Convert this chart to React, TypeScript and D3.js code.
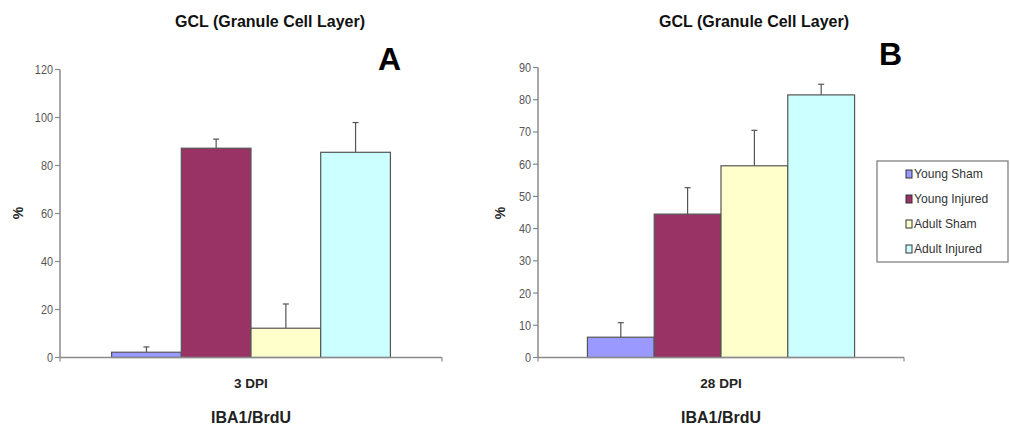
import React from "react";
import * as d3 from "d3";

const series = ["Young Sham", "Young Injured", "Adult Sham", "Adult Injured"];
const colors = ["#9999FF", "#993366", "#FFFFCC", "#CCFFFF"];

const categoriesA = ["3 DPI"];
const valuesA = [2.2, 87.2, 12.2, 85.5];
const errorsA = [2.2, 3.8, 10.1, 12.4];
const ticksA = [0, 20, 40, 60, 80, 100, 120];

const categoriesB = ["28 DPI"];
const valuesB = [6.3, 44.5, 59.5, 81.5];
const errorsB = [4.5, 8.2, 11.0, 3.3];
const ticksB = [0, 10, 20, 30, 40, 50, 60, 70, 80, 90];

const title = "GCL (Granule Cell Layer)";
const xTitle = "IBA1/BrdU";
const yTitle = "%";

const FONT = "Liberation Sans, Arial, sans-serif";

type PanelProps = {
  categories: string[];
  values: number[];
  errors: number[];
  ticks: number[];
  x0: number;
  x1: number;
  yTop: number;
  yMax: number;
  letter: string;
  letterX: number;
  letterY: number;
  titleX: number;
  yLabelX: number;
};

function sx(x: number, s: number) {
  return `translate(${x},0) scale(${s},1) translate(${-x},0)`;
}

function Panel(p: PanelProps) {
  const yBase = 357.5;
  const y = d3.scaleLinear().domain([0, p.yMax]).range([yBase, p.yTop]);
  const xOuter = d3.scaleBand<string>().domain(p.categories).range([p.x0, p.x1]).paddingInner(0).paddingOuter(0.185);
  const xInner = d3.scaleBand<string>().domain(series).range([0, xOuter.bandwidth()]).padding(0);
  const cat = p.categories[0];
  const cx = (xOuter(cat) || 0) + xOuter.bandwidth() / 2;
  const axisColor = "#8a8a8a";
  return (
    <g>
      <text x={p.titleX} y={27} textAnchor="middle" fontFamily={FONT} fontWeight="bold" fontSize={16} fill="#111">{title}</text>
      <text x={p.letterX} y={p.letterY} textAnchor="middle" fontFamily={FONT} fontWeight="bold" fontSize={32} fill="#000">{p.letter}</text>
      {/* y axis */}
      <line x1={p.x0} x2={p.x0} y1={y(p.yMax)} y2={yBase} stroke={axisColor} strokeWidth={1.5} />
      {p.ticks.map((t) => (
        <g key={t}>
          <line x1={p.x0 - 5} x2={p.x0} y1={y(t)} y2={y(t)} stroke={axisColor} strokeWidth={1.2} />
          <text x={p.x0 - 7} y={y(t) + 4.5} textAnchor="end" fontFamily={FONT} fontSize={12.5} fill="#555" transform={sx(p.x0 - 7, 0.87)}>{t}</text>
        </g>
      ))}
      <text transform={`translate(${p.yLabelX},213) rotate(-90)`} textAnchor="middle" fontFamily={FONT} fontWeight="bold" fontSize={14} fill="#222">{yTitle}</text>
      {/* bars */}
      {series.map((s, i) => {
        const bx = (xOuter(cat) || 0) + (xInner(s) || 0);
        const bw = xInner.bandwidth();
        const top = y(p.values[i]);
        const errTop = y(p.values[i] + p.errors[i]);
        const mx = bx + bw / 2;
        return (
          <g key={s}>
            <line x1={mx} x2={mx} y1={top} y2={errTop} stroke="#555" strokeWidth={1.2} />
            <line x1={mx - 3} x2={mx + 3} y1={errTop} y2={errTop} stroke="#555" strokeWidth={1.2} />
            <rect x={bx} y={top} width={bw} height={yBase - top} fill={colors[i]} stroke="#555" strokeWidth={1.2} />
          </g>
        );
      })}
      {/* x axis */}
      <line x1={p.x0} x2={p.x1} y1={yBase} y2={yBase} stroke={axisColor} strokeWidth={1.5} />
      <line x1={p.x0} x2={p.x0} y1={yBase} y2={yBase + 4} stroke={axisColor} strokeWidth={1.2} />
      <line x1={p.x1} x2={p.x1} y1={yBase} y2={yBase + 4} stroke={axisColor} strokeWidth={1.2} />
      <text x={cx} y={388} textAnchor="middle" fontFamily={FONT} fontWeight="bold" fontSize={13.5} fill="#222">{cat}</text>
      <text x={cx} y={423} textAnchor="middle" fontFamily={FONT} fontWeight="bold" fontSize={17} fill="#222" transform={sx(cx, 0.94)}>{xTitle}</text>
    </g>
  );
}

export default function App() {
  const legendX = 877;
  const legendY = 161;
  return (
    <svg width={1010} height={432} style={{ position: "absolute", left: 0, top: 0, background: "#fff" }}>
      <rect x={0} y={0} width={1010} height={432} fill="#fff" />
      <Panel categories={categoriesA} values={valuesA} errors={errorsA} ticks={ticksA} x0={60} x1={442} yTop={69.5} yMax={120} letter="A" letterX={389.5} letterY={70} titleX={270} yLabelX={23} />
      <Panel categories={categoriesB} values={valuesB} errors={errorsB} ticks={ticksB} x0={538} x1={904} yTop={67.5} yMax={90} letter="B" letterX={890.5} letterY={65} titleX={754} yLabelX={505} />
      <rect x={legendX} y={legendY} width={131} height={101} fill="#fff" stroke="#777" strokeWidth={1.2} />
      {series.map((s, i) => (
        <g key={s}>
          <rect x={906} y={170 + i * 25} width={6} height={8} fill={colors[i]} stroke="#333" strokeWidth={1} />
          <text x={914} y={178.5 + i * 25} fontFamily={FONT} fontSize={12.5} fill="#333" transform={sx(914, 0.97)}>{s}</text>
        </g>
      ))}
    </svg>
  );
}
